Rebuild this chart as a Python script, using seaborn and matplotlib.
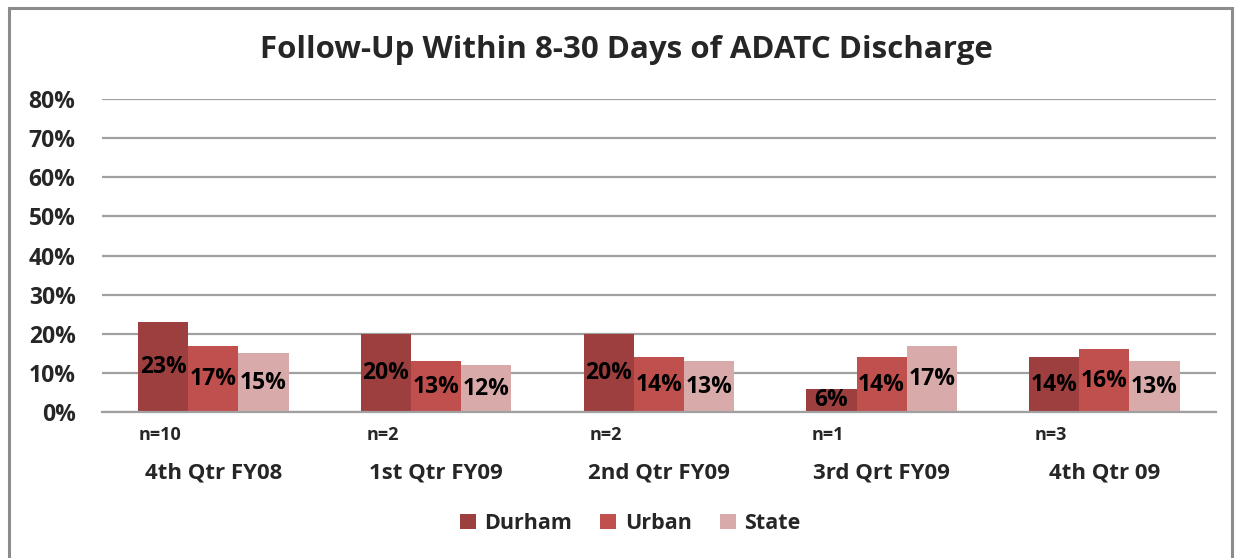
import pandas as pd
import numpy as np
import matplotlib
matplotlib.use("Agg")
import matplotlib.pyplot as plt
import seaborn as sns
from matplotlib.ticker import PercentFormatter

# chart values
quarters = ['4th Qtr FY08', '1st Qtr FY09', '2nd Qtr FY09', '3rd Qrt FY09', '4th Qtr 09']
durham = [23, 20, 20, 6, 14]
urban = [17, 13, 14, 14, 16]
state = [15, 12, 13, 17, 13]
n_labels = ['n=10', 'n=2', 'n=2', 'n=1', 'n=3']
groups = ['Durham', 'Urban', 'State']
colors = ['#9E3F3F', '#C0504D', '#D9AAAA']

df = pd.DataFrame({
    'quarter': quarters * 3,
    'pct': durham + urban + state,
    'group': [g for g in groups for _ in quarters],
})

sns.set_style('white')
plt.rcParams['font.family'] = ['Open Sans', 'DejaVu Sans']
plt.rcParams['font.weight'] = 'bold'

fig = plt.figure(figsize=(12.38, 5.58), dpi=100)
ax = fig.add_axes([0.0824, 0.2616, 0.8996, 0.561])

sns.barplot(data=df, x='quarter', y='pct', hue='group', order=quarters,
            hue_order=groups, palette=colors, width=0.675, gap=0,
            saturation=1, linewidth=0, ax=ax, legend=True)

for cont in ax.containers:
    ax.bar_label(cont, labels=[f'{int(v)}%' for v in cont.datavalues],
                 label_type='center', fontsize=16.5, fontweight='bold', color='black')

ax.set_ylim(0, 80)
ax.set_xlim(-0.5, 4.5)
ax.set_yticks(range(0, 81, 10))
ax.yaxis.set_major_formatter(PercentFormatter(decimals=0))
ax.grid(axis='y', color='#A0A0A0', linewidth=1.6)
ax.set_axisbelow(True)
for s in ['top', 'right', 'left']:
    ax.spines[s].set_visible(False)
ax.spines['bottom'].set_color('#A0A0A0')
ax.spines['bottom'].set_linewidth(1.6)
ax.tick_params(axis='y', length=0, pad=19, labelsize=16.5)
ax.tick_params(axis='x', length=0, pad=36, labelsize=16)
for lab in ax.get_xticklabels() + ax.get_yticklabels():
    lab.set_fontweight('bold')
ax.set_xlabel('')
ax.set_ylabel('')

for i, t in enumerate(n_labels):
    ax.text(i - 0.24, -5.9, t, ha='center', va='center', fontsize=13,
            fontweight='bold', clip_on=False)

fig.text(0.506, 0.91, 'Follow-Up Within 8-30 Days of ADATC Discharge',
         ha='center', va='center', fontsize=22.5, fontweight='bold')

leg = ax.legend(ncol=3, frameon=False, fontsize=15.5, handlelength=0.75, handleheight=0.75,
                handletextpad=0.4, columnspacing=1.3, loc='center')
leg.set_bbox_to_anchor((0.509, 0.062), transform=fig.transFigure)
for txt in leg.get_texts():
    txt.set_fontweight('bold')

fig.patches.append(plt.Rectangle((9 / 1238, -0.02), 1223 / 1238, 1 - 8 / 558 + 0.02,
                                 transform=fig.transFigure, fill=False,
                                 edgecolor='#8C8C8C', linewidth=2.2))

fig.savefig('out.png', dpi=100)
